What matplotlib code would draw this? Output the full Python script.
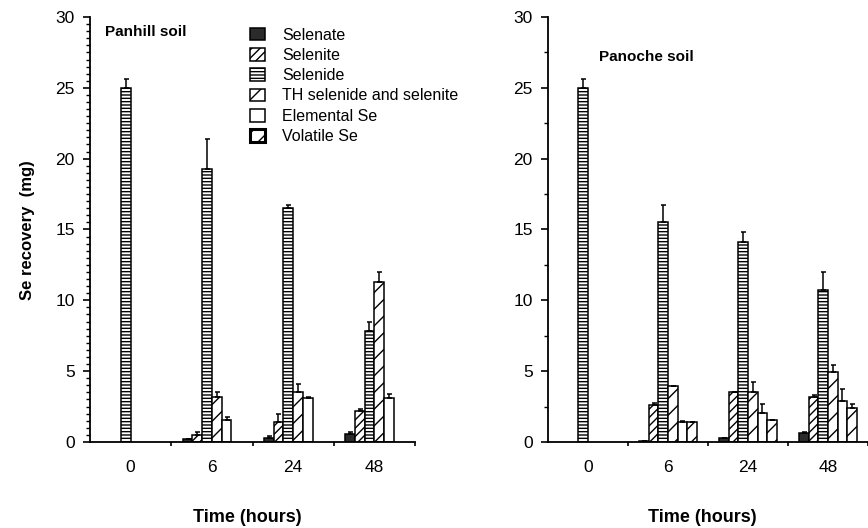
import numpy as np
import matplotlib
matplotlib.use("Agg")
import matplotlib.pyplot as plt
from matplotlib.ticker import MultipleLocator, FixedLocator, NullFormatter

plt.rcParams['font.family'] = ['Liberation Sans', 'DejaVu Sans']
plt.rcParams['hatch.linewidth'] = 1.0

nan = np.nan

# sampling times and selenium fractions
times = ['0', '6', '24', '48']
species = ['Selenate', 'Selenite', 'Selenide', 'TH selenide and selenite',
           'Elemental Se', 'Volatile Se']

# Panhill soil, rows follow `species`, columns follow `times` (mg)
panhill_mean = [
    [nan, 0.2, 0.3, 0.55],
    [nan, 0.5, 1.4, 2.2],
    [25.0, 19.3, 16.5, 7.85],
    [nan, 3.2, 3.5, 11.3],
    [nan, 1.55, 3.1, 3.1],
    [nan, nan, nan, nan],
]
panhill_err = [
    [0, 0.0, 0.15, 0.15],
    [0, 0.2, 0.6, 0.1],
    [0.6, 2.1, 0.2, 0.65],
    [0, 0.3, 0.6, 0.7],
    [0, 0.2, 0.05, 0.3],
    [0, 0, 0, 0],
]

# Panoche soil
panoche_mean = [
    [nan, 0.1, 0.25, 0.6],
    [nan, 2.6, 3.5, 3.2],
    [25.0, 15.5, 14.1, 10.75],
    [nan, 3.95, 3.5, 4.95],
    [nan, 1.4, 2.05, 2.9],
    [nan, 1.4, 1.55, 2.4],
]
panoche_err = [
    [0, 0, 0, 0.1],
    [0, 0.15, 0, 0.1],
    [0.6, 1.2, 0.7, 1.25],
    [0, 0, 0.7, 0.5],
    [0, 0.1, 0.65, 0.85],
    [0, 0, 0, 0.3],
]

# fill style for each fraction
styles = [
    dict(facecolor='#2b2b2b', hatch=None),
    dict(facecolor='white', hatch='////'),
    dict(facecolor='white', hatch='-----'),
    dict(facecolor='white', hatch='//'),
    dict(facecolor='white', hatch=None),
    dict(facecolor='white', hatch='//'),
]

bar_w = 0.12


def draw_panel(ax, means, errs, minor_step):
    x = np.arange(len(times))
    handles = []
    for i, name in enumerate(species):
        pos = x + (i - 2.5) * bar_w
        vals = np.array(means[i], dtype=float)
        err = np.array(errs[i], dtype=float)
        h = ax.bar(pos, vals, bar_w, edgecolor='black', linewidth=1.1,
                   label=name, zorder=2, **styles[i])
        handles.append(h)
        ax.errorbar(pos, vals, yerr=[np.zeros_like(err), err], fmt='none',
                    ecolor='black', elinewidth=1.1, capsize=1.8,
                    capthick=1.1, zorder=3)

    ax.set_xlim(-0.5, 3.5)
    ax.set_ylim(0, 30)
    for side in ['top', 'right']:
        ax.spines[side].set_visible(False)
    for side in ['left', 'bottom']:
        ax.spines[side].set_linewidth(1.3)

    ax.yaxis.set_major_locator(MultipleLocator(5))
    ax.yaxis.set_minor_locator(MultipleLocator(minor_step))
    ax.tick_params(axis='y', which='major', length=5, width=1.2,
                   labelsize=12.5, pad=6)
    ax.tick_params(axis='y', which='minor', length=3, width=1.0)

    ax.set_xticks(x)
    ax.set_xticklabels(times)
    ax.xaxis.set_minor_locator(FixedLocator([0.5, 1.5, 2.5, 3.5]))
    ax.xaxis.set_minor_formatter(NullFormatter())
    ax.tick_params(axis='x', which='major', length=0, labelsize=12.5, pad=13)
    ax.tick_params(axis='x', which='minor', length=3, width=1.2)
    return handles


fig = plt.figure(figsize=(8.68, 5.28), dpi=100)
ax1 = fig.add_axes([0.1037, 0.1629, 0.3744, 0.8049])
ax2 = fig.add_axes([0.6313, 0.1629, 0.3687, 0.8049])

handles = draw_panel(ax1, panhill_mean, panhill_err, 0.5)
draw_panel(ax2, panoche_mean, panoche_err, 2.5)

ax1.text(0.045, 0.965, 'Panhill soil', transform=ax1.transAxes,
         fontsize=11, fontweight='bold', va='center', ha='left')
ax2.text(0.16, 0.905, 'Panoche soil', transform=ax2.transAxes,
         fontsize=11, fontweight='bold', va='center', ha='left')

leg = ax1.legend(handles=handles, labels=species, loc='upper left',
                 bbox_to_anchor=(0.474, 0.99), frameon=False, fontsize=11.5,
                 handlelength=0.9, handleheight=0.85, handletextpad=1.1,
                 labelspacing=0.33, borderaxespad=0)
leg.legend_handles[-1].set_linewidth(2.2)

fig.text(0.032, 0.565, 'Se recovery  (mg)', rotation=90, fontsize=12,
         fontweight='bold', ha='center', va='center')
fig.text(0.285, 0.019, 'Time (hours)', fontsize=13, fontweight='bold',
         ha='center', va='center')
fig.text(0.809, 0.019, 'Time (hours)', fontsize=13, fontweight='bold',
         ha='center', va='center')

fig.savefig('out.png', dpi=100)
